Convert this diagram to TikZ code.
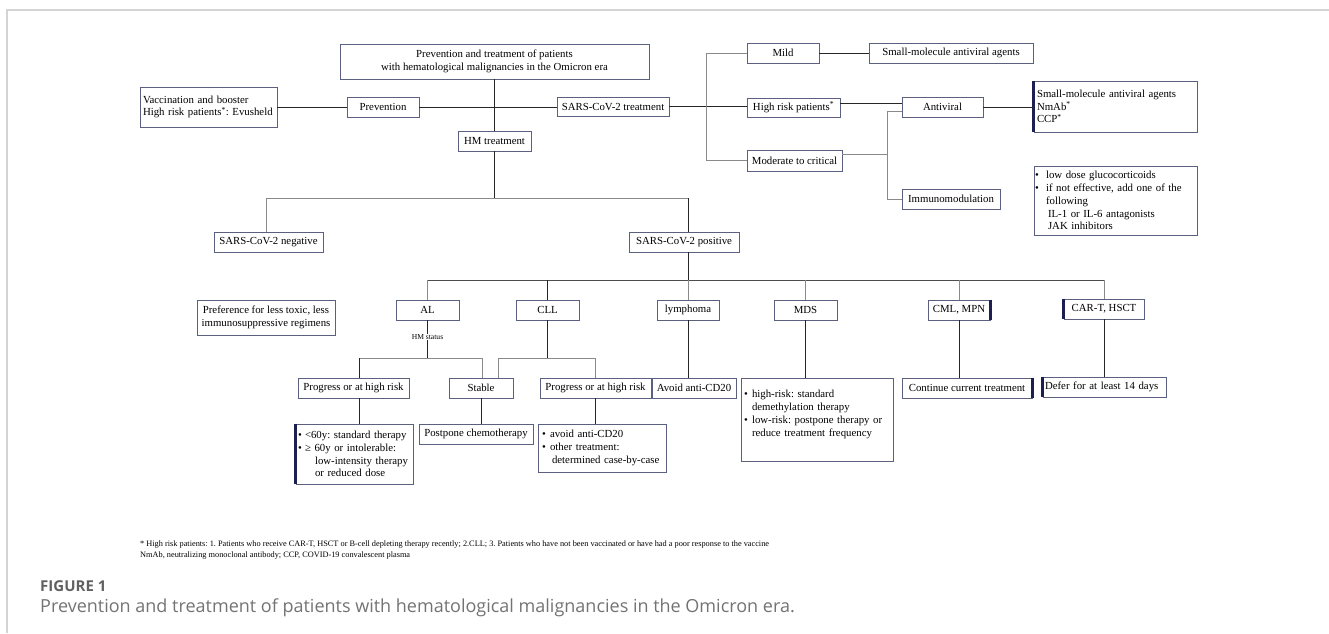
\documentclass[tikz,border=0pt]{standalone}
\usepackage{fontspec}
\setmainfont{Liberation Serif}
\newfontfamily\capfont{Open Sans}
\definecolor{boxc}{HTML}{5C6080}
\definecolor{edgec}{HTML}{1C2050}
\definecolor{lineg}{HTML}{8A8A8A}
\definecolor{framec}{HTML}{D4D4D4}
\newcommand{\bul}[1]{\makebox[#1][l]{\textbullet}}
\frenchspacing
\begin{document}
\begin{tikzpicture}[x=1pt,y=-1pt,
  box/.style={draw=boxc, line width=0.9pt, inner sep=0pt, font=\fontsize{10.8}{12.8}\selectfont, align=center},
  lbox/.style={box, align=left},
  ln/.style={draw=black!85, line width=0.9pt},
  lng/.style={draw=lineg, line width=0.9pt},
  thickedge/.style={draw=edgec, line width=2.2pt},
  smalltxt/.style={font=\fontsize{7.6}{8}\selectfont, inner sep=0.5pt, fill=white}]
\useasboundingbox (0,0) rectangle (1329,633);
% frame
\draw[framec, line width=2pt] (7,633) -- (7,9.5) -- (1329,9.5);

% top level
\node[box, minimum width=309pt, minimum height=35pt] (title) at (494.5,61.5) {Prevention and treatment of patients\\with hematological malignancies in the Omicron era};
\node[lbox, minimum width=137pt, minimum height=40pt, text width=131pt] (vacc) at (208.5,107) {\mbox{Vaccination and booster}\\\mbox{High risk patients\textsuperscript{*}: Evusheld}};
\node[box, minimum width=72pt, minimum height=20pt] (prev) at (383,107) {Prevention};
\node[box, minimum width=112pt, minimum height=19pt] (sarstreat) at (613,106.5) {SARS-CoV-2 treatment};
\node[box, minimum width=73pt, minimum height=20pt] (hm) at (494.5,141) {HM treatment};

% SARS-CoV-2 treatment branch
\node[box, minimum width=72pt, minimum height=20pt] (mild) at (783,53) {Mild};
\node[box, minimum width=164pt, minimum height=20pt] (smallmol) at (951,53) {Small-molecule antiviral agents};
\node[box, minimum width=93pt, minimum height=19pt] (highrisk) at (793.5,107.5) {High risk patients\textsuperscript{*}};
\node[box, minimum width=95pt, minimum height=21pt] (moderate) at (794.5,160.5) {Moderate to critical};
\node[box, minimum width=81pt, minimum height=20pt] (antiviral) at (942.5,107) {Antiviral};
\node[box, minimum width=98pt, minimum height=20pt] (immuno) at (951,199) {Immunomodulation};
\node[lbox, minimum width=163pt, minimum height=51pt, text width=157pt] (avdrugs) at (1115.5,106.5) {\mbox{Small-molecule antiviral agents}\\NmAb\textsuperscript{*}\\CCP\textsuperscript{*}};
\node[lbox, minimum width=163pt, minimum height=69pt, text width=161pt] (imtext) at (1115.5,200.5) {\bul{11pt}\mbox{low dose glucocorticoids}\\\bul{11pt}\mbox{if not effective, add one of the}\\\hspace*{11pt}following\\\hspace*{13pt}\mbox{IL-1 or IL-6 antagonists}\\\hspace*{13pt}\mbox{JAK inhibitors}};
\draw[thickedge] (avdrugs.north west) -- (avdrugs.south west);

% HM treatment branch
\node[box, minimum width=109pt, minimum height=20pt] (neg) at (268.5,242) {SARS-CoV-2 negative};
\node[box, minimum width=138pt, minimum height=35pt] (pref) at (266,317.5) {Preference for less toxic, less\\immunosuppressive regimens};
\node[box, minimum width=110pt, minimum height=20pt] (pos) at (684,242) {SARS-CoV-2 positive};

\node[box, minimum width=63pt, minimum height=20pt] (al) at (427.5,310) {AL};
\node[box, minimum width=63pt, minimum height=20pt] (cll) at (547.5,310) {CLL};
\node[box, minimum width=62pt, minimum height=20pt] (lymph) at (688,310) {lymphoma};
\node[box, minimum width=63pt, minimum height=20pt] (mds) at (805.5,310) {MDS};
\node[box, minimum width=62pt, minimum height=20pt] (cml) at (959,310) {CML, MPN};
\node[box, minimum width=80pt, minimum height=20pt] (cart) at (1104,309) {CAR-T, HSCT};
\draw[thickedge] (cml.north east) -- (cml.south east);
\draw[thickedge] (cart.north west) -- (cart.south west);

\node[box, minimum width=111pt, minimum height=20pt] (prog1) at (353.5,388) {Progress or at high risk};
\node[box, minimum width=64pt, minimum height=20pt] (stable) at (481,388) {Stable};
\node[box, minimum width=111pt, minimum height=20pt] (prog2) at (595.5,388) {Progress or at high risk};
\node[box, minimum width=84pt, minimum height=20pt] (avoid) at (694,388) {Avoid anti-CD20};
\node[lbox, minimum width=152pt, minimum height=83pt, text width=146pt] (mdstext) at (817,419.5) {\bul{8pt}\mbox{high-risk: standard}\\\hspace*{8pt}\mbox{demethylation therapy}\\\bul{8pt}\mbox{low-risk: postpone therapy or}\\\hspace*{8pt}\mbox{reduce treatment frequency}\\\mbox{}};
\node[box, minimum width=130pt, minimum height=20pt] (contin) at (967,388) {Continue current treatment};
\node[lbox, minimum width=123pt, minimum height=20pt, text width=119pt] (defer) at (1104.5,387) {\mbox{Defer for at least 14 days}};
\draw[thickedge] (contin.north east) -- (contin.south east);
\draw[thickedge] (defer.north west) -- (defer.south west);

\node[lbox, minimum width=117pt, minimum height=60pt, text width=113pt] (lt60) at (354.5,454) {\bul{7pt}\mbox{<60y: standard therapy}\\\bul{7pt}\mbox{≥ 60y or intolerable:}\\\hspace*{17pt}\mbox{low-intensity therapy}\\\hspace*{17pt}\mbox{or reduced dose}};
\node[box, minimum width=114pt, minimum height=20pt] (postpone) at (476,434) {Postpone chemotherapy};
\node[lbox, minimum width=128pt, minimum height=48pt, text width=120pt] (avoidb) at (602,448) {\bul{8pt}\mbox{avoid anti-CD20}\\\bul{8pt}\mbox{other treatment:}\\\hspace*{10pt}\mbox{determined case-by-case}};
\draw[thickedge] (lt60.north west) -- (lt60.south west);

% coordinates
\coordinate (bx1) at (706,107);
\coordinate (bx2) at (887,154);
\coordinate (bx2t) at (887,111);
\coordinate (bx2b) at (887,199);
\coordinate (hr1) at (840,103);
\coordinate (hl) at (266,198);
\coordinate (hr) at (688,198);
\coordinate (pb) at (688,280);
\coordinate (pbl) at (427.5,280);
\coordinate (pbr) at (1104,280);
\coordinate (ala) at (427.5,358);
\coordinate (al1) at (359,358);
\coordinate (al2) at (482,358);
\coordinate (cl1) at (498,358);
\coordinate (cl2) at (595.5,358);
\coordinate (clm) at (547.5,358);

% connectors: top level
\draw[ln] (title.south) -- (hm.north);
\draw[ln] (vacc.east) -- (prev.west);
\draw[ln] (prev.east) -- (prev.east -| sarstreat.west);
\draw[ln] (sarstreat.east) -- (sarstreat.east -| highrisk.west);
\draw[lng] (bx1 |- mild.west) -- (bx1 |- moderate.west);
\draw[lng] (bx1 |- mild.west) -- (mild.west);
\draw[lng] (bx1 |- moderate.west) -- (moderate.west);
\draw[ln] (mild.east) -- (smallmol.west);
\draw[ln] (hr1) -- (hr1 -| antiviral.west);
\draw[lng] (moderate.east |- bx2) -- (bx2);
\draw[lng] (bx2t) -- (bx2b);
\draw[lng] (bx2t) -- (bx2t -| antiviral.west);
\draw[lng] (bx2b) -- (bx2b -| immuno.west);
\draw[ln] (antiviral.east) -- (antiviral.east -| avdrugs.west);

% HM tree
\draw[ln] (hm.south) -- (hm.south |- hl);
\draw[lng] (hl) -- (hr);
\draw[lng] (hl) -- (hl |- neg.north);
\draw[ln] (hr) -- (hr |- pos.north);
\draw[ln] (hr |- pos.south) -- (pb);
\draw[draw=black!70, line width=0.9pt] (pbl) -- (pbr);
\draw[lng] (pbl) -- (al.north);
\draw[ln] (pbl -| cll.north) -- (cll.north);
\draw[lng] (pb) -- (lymph.north);
\draw[lng] (pbl -| mds.north) -- (mds.north);
\draw[lng] (pbl -| cml.north) -- (cml.north);
\draw[lng] (pbr) -- (cart.north);

% AL subtree
\draw[ln] (al.south) -- (ala);
\node[smalltxt] (hmstatus) at (427.5,337) {HM status};
\draw[lng] (al1) -- (al2);
\draw[ln] (al1) -- (al1 |- prog1.north);
\draw[lng] (al2) -- (al2 |- stable.north);
% CLL subtree
\draw[ln] (cll.south) -- (clm);
\draw[lng] (cl1) -- (cl2);
\draw[lng] (cl1) -- (cl1 |- stable.north);
\draw[lng] (cl2) -- (cl2 |- prog2.north);

% lower connectors
\draw[ln] (al1 |- prog1.south) -- (al1 |- lt60.north);
\draw[ln] (stable.south) -- (stable.south |- postpone.north);
\draw[ln] (prog2.south) -- (prog2.south |- avoidb.north);
\draw[ln] (lymph.south) -- (lymph.south |- avoid.north);
\draw[ln] (mds.south) -- (mds.south |- mdstext.north);
\draw[ln] (cml.south) -- (cml.south |- contin.north);
\draw[ln] (cart.south) -- (cart.south |- defer.north);

% footnote and caption
\node[anchor=west, align=left, inner sep=0pt, font=\fontsize{8.3}{10.5}\selectfont] (foot) at (140,550) {* High risk patients: 1. Patients who receive CAR-T, HSCT or B-cell depleting therapy recently; 2.CLL; 3. Patients who have not been vaccinated or have had a poor response to the vaccine\\NmAb, neutralizing monoclonal antibody; CCP, COVID-19 convalescent plasma};
\node[anchor=west, inner sep=0pt, font=\capfont\bfseries\fontsize{15}{17}\selectfont, text=black!62] (figlabel) at (40,586) {FIGURE 1};
\node[anchor=west, inner sep=0pt, font=\capfont\fontsize{18}{20}\selectfont, text=black!55] (caption) at (40,608) {Prevention and treatment of patients with hematological malignancies in the Omicron era.};
\end{tikzpicture}
\end{document}
